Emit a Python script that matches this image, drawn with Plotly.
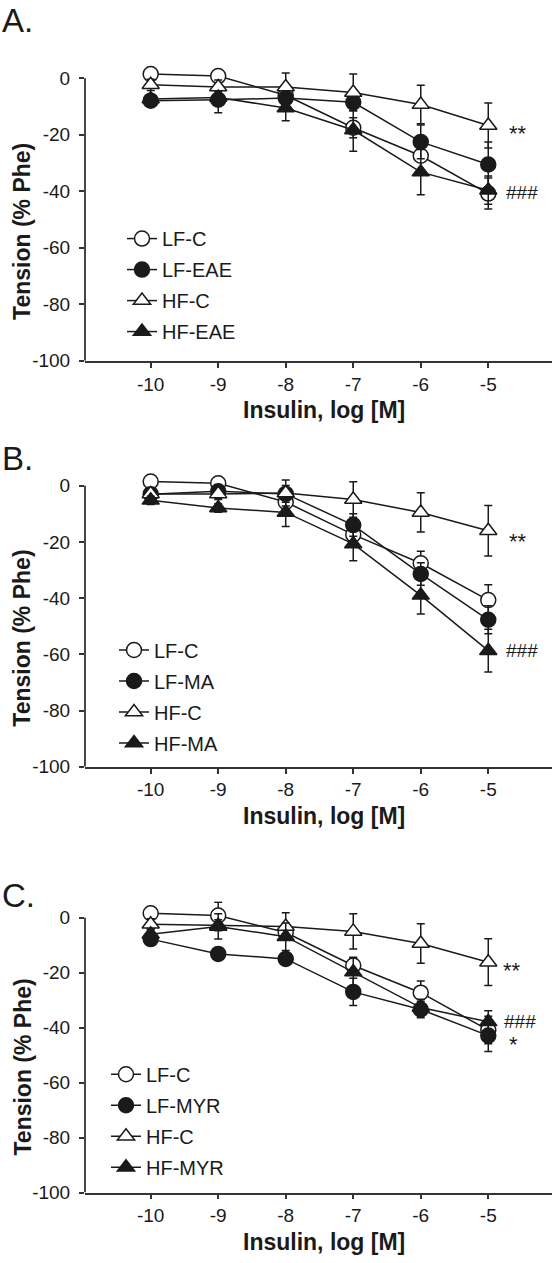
import plotly.graph_objects as go

# ---------------- data ----------------
log_insulin = [-10, -9, -8, -7, -6, -5]
x_ticks = [-10, -9, -8, -7, -6, -5]
y_ticks = [0, -20, -40, -60, -80, -100]

# Panel A
A_names = ["LF-C", "LF-EAE", "HF-C", "HF-EAE"]
A_lf_c = [1.5, 0.8, -6.0, -17.5, -27.4, -40.8]
A_lf_c_err = [1.0, 1.2, 2.5, 3.5, 5.0, 5.5]
A_lf_eae = [-7.9, -7.6, -7.0, -8.5, -22.5, -30.5]
A_lf_eae_err = [1.5, 4.6, 3.0, 3.0, 6.0, 8.0]
A_hf_c = [-2.3, -3.1, -3.1, -5.0, -9.3, -16.7]
A_hf_c_err = [2.0, 2.5, 5.0, 6.5, 6.8, 8.0]
A_hf_eae = [-7.3, -6.8, -10.5, -18.3, -33.2, -39.6]
A_hf_eae_err = [1.5, 2.0, 4.5, 7.5, 8.0, 5.0]

# Panel B
B_names = ["LF-C", "LF-MA", "HF-C", "HF-MA"]
B_lf_c = [1.5, 0.9, -5.8, -17.4, -27.6, -40.7]
B_lf_c_err = [1.0, 1.0, 2.0, 3.0, 4.3, 5.5]
B_lf_ma = [-3.0, -2.0, -2.9, -14.0, -31.4, -47.7]
B_lf_ma_err = [1.5, 2.0, 3.0, 4.0, 4.0, 5.0]
B_hf_c = [-2.9, -2.9, -2.6, -4.9, -9.5, -16.0]
B_hf_c_err = [2.0, 2.0, 4.6, 6.3, 7.0, 9.0]
B_hf_ma = [-5.2, -7.9, -9.5, -20.7, -39.0, -58.7]
B_hf_ma_err = [1.5, 1.5, 5.0, 6.0, 6.6, 7.6]

# Panel C
C_names = ["LF-C", "LF-MYR", "HF-C", "HF-MYR"]
C_lf_c = [1.6, 0.8, -5.4, -17.4, -27.3, -40.9]
C_lf_c_err = [1.0, 4.8, 2.0, 3.0, 4.3, 5.0]
C_lf_myr = [-7.8, -13.2, -15.0, -27.0, -33.4, -42.9]
C_lf_myr_err = [2.0, 2.0, 1.5, 5.0, 3.0, 5.8]
C_hf_c = [-2.4, -2.8, -3.2, -5.0, -9.4, -16.2]
C_hf_c_err = [2.0, 2.0, 5.0, 6.4, 7.2, 8.5]
C_hf_myr = [-6.0, -3.2, -6.9, -19.8, -32.7, -37.9]
C_hf_myr_err = [2.0, 4.6, 5.0, 5.0, 3.0, 4.0]

# significance labels: (text, x, y)
A_sig = [("**", -4.56, -19.5), ("###", -4.50, -40.4)]
B_sig = [("**", -4.56, -19.7), ("###", -4.50, -58.7)]
C_sig = [("**", -4.65, -19.3), ("###", -4.53, -37.7), ("*", -4.62, -46.0)]

panel_letters = ["A.", "B.", "C."]
x_title = "Insulin, log [M]"
y_title = "Tension (% Phe)"

# ---------------- styling ----------------
W, H = 557, 1263
FONT = "Liberation Sans, Arial, sans-serif"
INK = "#1a1a1a"
symbols = ["circle", "circle", "triangle-up", "triangle-up"]
fills = ["white", INK, "white", INK]

x_left_px, x_right_px = 85, 552
x_range = [-10.973, -4.056]
y_range = [-100, 6]
panels_px = [(61.9, 364.0), (473.0, 773.5), (909.1, 1203.0)]

legend_tops_px = [221, 636, 1064]
legend_names = ["legend", "legend2", "legend3"]
legend_x_px = [122, 114, 106]
letter_tops_px = [0, 442, 883]

fig = go.Figure()

panels = [
    (A_names, [A_lf_c, A_lf_eae, A_hf_c, A_hf_eae],
     [A_lf_c_err, A_lf_eae_err, A_hf_c_err, A_hf_eae_err], A_sig),
    (B_names, [B_lf_c, B_lf_ma, B_hf_c, B_hf_ma],
     [B_lf_c_err, B_lf_ma_err, B_hf_c_err, B_hf_ma_err], B_sig),
    (C_names, [C_lf_c, C_lf_myr, C_hf_c, C_hf_myr],
     [C_lf_c_err, C_lf_myr_err, C_hf_c_err, C_hf_myr_err], C_sig),
]

annotations = []
shapes = []
layout_axes = {}

for i, (names, series, errs, sigs) in enumerate(panels):
    xa = "x" if i == 0 else f"x{i+1}"
    ya = "y" if i == 0 else f"y{i+1}"
    for j in range(4):
        fig.add_trace(go.Scatter(
            x=log_insulin, y=series[j], name=names[j],
            mode="lines+markers",
            line=dict(color=INK, width=1.5),
            marker=dict(symbol=symbols[j], size=15, color=fills[j],
                        line=dict(color=INK, width=1.5)),
            error_y=dict(type="data", array=errs[j], color=INK,
                         thickness=1.5, width=4),
            xaxis=xa, yaxis=ya, legend=legend_names[i],
            legendgroup=f"g{i}{j}", cliponaxis=False,
        ))
    top_px, bot_px = panels_px[i]
    ydom = [1 - bot_px / H, 1 - top_px / H]
    xdom = [x_left_px / W, x_right_px / W]
    xkey = "xaxis" if i == 0 else f"xaxis{i+1}"
    ykey = "yaxis" if i == 0 else f"yaxis{i+1}"
    layout_axes[xkey] = dict(
        domain=xdom, range=x_range, anchor=ya,
        tickvals=x_ticks, ticktext=[str(v) for v in x_ticks],
        showline=True, linecolor="#333", linewidth=1.8,
        ticks="outside", ticklen=5, tickwidth=1.5, tickcolor="#333",
        ticklabelstandoff=0,
        showgrid=False, zeroline=False,
        tickfont=dict(family=FONT, size=19, color=INK),
    )
    layout_axes[ykey] = dict(
        domain=ydom, range=y_range, anchor=xa,
        tickvals=y_ticks, ticktext=[str(v) for v in y_ticks],
        showline=False,
        ticks="outside", ticklen=5, tickwidth=1.5, tickcolor="#333",
        ticklabelstandoff=5,
        showgrid=False, zeroline=False,
        tickfont=dict(family=FONT, size=19, color=INK),
    )
    # y axis line from 0 to -100 only
    shapes.append(dict(type="line", xref=f"{xa} domain", yref=ya,
                       x0=0, x1=0, y0=-100, y1=0,
                       line=dict(color="#333", width=1.8)))
    # x axis title
    annotations.append(dict(
        text=f"<b>{x_title}</b>", xref="paper", yref="paper",
        x=324 / W, y=1 - (bot_px + 50) / H,
        showarrow=False, xanchor="center", yanchor="middle",
        font=dict(family=FONT, size=23, color=INK)))
    # y axis title
    y0_px = top_px + (bot_px - top_px) * 6 / 106
    annotations.append(dict(
        text=f"<b>{y_title}</b>", textangle=-90,
        xref="paper", yref="paper", x=22.5 / W,
        y=1 - ((y0_px + bot_px) / 2 + 12) / H,
        showarrow=False, xanchor="center", yanchor="middle",
        font=dict(family=FONT, size=23, color=INK)))
    # panel letter
    annotations.append(dict(
        text=panel_letters[i], xref="paper", yref="paper",
        x=0, y=1 - letter_tops_px[i] / H, xanchor="left", yanchor="top",
        showarrow=False, font=dict(family=FONT, size=33, color=INK)))
    for (t, sx, sy) in sigs:
        annotations.append(dict(
            text=t, xref=xa, yref=ya, x=sx, y=sy, showarrow=False,
            xanchor="center", yanchor="middle",
            font=dict(family=FONT, size=22 if "*" in t else 19, color=INK)))
    layout_axes[legend_names[i]] = dict(
        x=legend_x_px[i] / W, y=1 - legend_tops_px[i] / H,
        xanchor="left", yanchor="top",
        bgcolor="rgba(0,0,0,0)", borderwidth=0,
        tracegroupgap=2, itemsizing="trace",
        font=dict(family=FONT, size=20, color=INK),
    )

fig.update_layout(
    width=W, height=H,
    margin=dict(l=0, r=0, t=0, b=0),
    paper_bgcolor="white", plot_bgcolor="white",
    showlegend=True,
    annotations=annotations, shapes=shapes,
    **layout_axes,
)

fig.write_html("out.html",
               config={"displayModeBar": False},
               post_script="document.body.style.margin='0';")
